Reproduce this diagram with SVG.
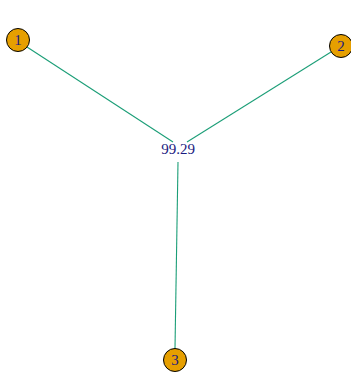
<svg xmlns="http://www.w3.org/2000/svg" width="351" height="374" viewBox="0 0 351 374">
<style>
.edge{stroke:#1b9e77;stroke-width:1.1;fill:none}
.node circle{fill:#e69f00;stroke:#000;stroke-width:1}
.node text{font-family:"Liberation Serif",serif;font-size:15px;fill:#1a1a80;text-anchor:middle}
.lbl{font-family:"Liberation Serif",serif;font-size:15px;fill:#1a1a80;text-anchor:middle}
</style>
<rect width="351" height="374" fill="#fff"/>
<g id="edges">
<line class="edge" x1="27" y1="47" x2="173" y2="142"/>
<line class="edge" x1="331" y1="52" x2="187" y2="142"/>
<line class="edge" x1="175" y1="348" x2="178" y2="162"/>
<text class="lbl" x="178" y="154">99.29</text>
</g>
<g id="n1" class="node"><circle cx="18" cy="40" r="11.5"/><text x="18" y="45">1</text></g>
<g id="n2" class="node"><circle cx="341" cy="46" r="11.5"/><text x="341" y="51">2</text></g>
<g id="n3" class="node"><circle cx="175" cy="360" r="11.5"/><text x="175" y="365">3</text></g>
</svg>
